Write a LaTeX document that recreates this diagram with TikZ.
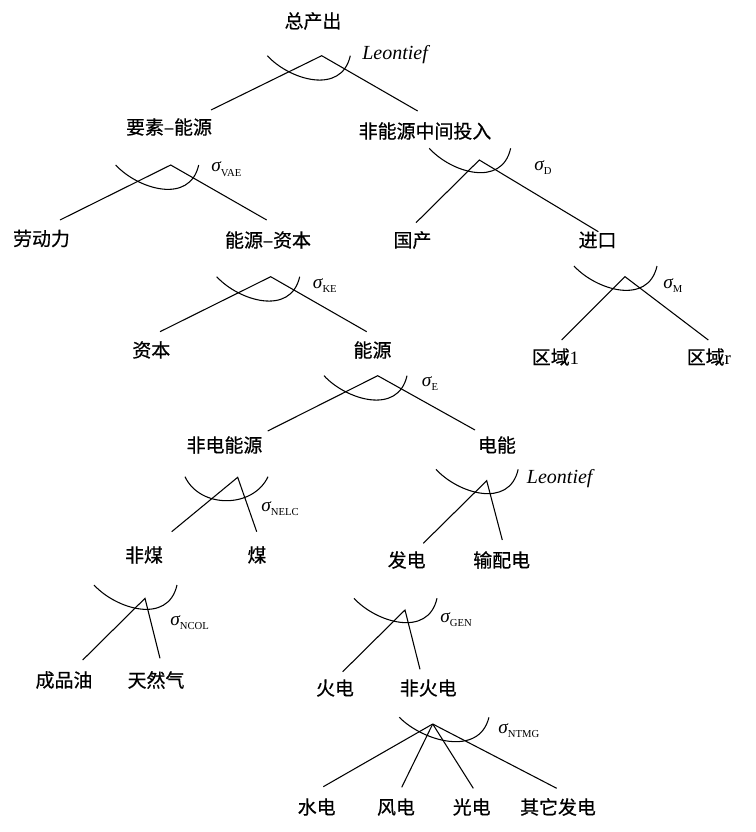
\documentclass[tikz,border=0pt]{standalone}
\usepackage{fontspec}
\setmainfont{Liberation Serif}
\newfontfamily\cjk[FakeBold=0.6]{Noto Sans CJK SC}
\usetikzlibrary{positioning}
\tikzset{
  lbl/.style={font=\cjk\fontsize{14.2}{16}\selectfont, inner sep=0pt},
  elas/.style={font=\fontsize{14.5}{16}\selectfont, inner sep=0pt, anchor=base west},
  leon/.style={font=\itshape\fontsize{15}{16}\selectfont, inner sep=0pt, anchor=west},
  brch/.style={line width=0.8pt},
  nestarc/.style={line width=0.8pt},
}
\newcommand{\sig}[1]{{\itshape σ}\raisebox{-3.6pt}{\fontsize{8}{8}\selectfont #1}}
% nesting arc, given by its left end
\newcommand{\cesarc}[2][1]{%
  \draw[nestarc, shift={(#2)}, xscale=#1] (0,0) .. controls (22,24) and (74,40) .. (83,0);}

\begin{document}
\begin{tikzpicture}[x=0.75pt, y=-0.75pt]
  \useasboundingbox (0,0) rectangle (756,832);

  % labels
  \node[lbl] (zcc)   at (313,21)    {总产出};
  \node[lbl] (ysny)  at (169,127)   {要素–能源};
  \node[lbl] (fny)   at (425,131)   {非能源中间投入};
  \node[lbl] (ldl)   at (41.5,238.5){劳动力};
  \node[lbl] (nyzb)  at (268,240)   {能源–资本};
  \node[lbl] (gc)    at (412.5,240) {国产};
  \node[lbl] (jk)    at (597.5,240) {进口};
  \node[lbl] (zb)    at (151.3,350) {资本};
  \node[lbl] (ny)    at (372.5,350) {能源};
  \node[lbl] (qy1)   at (555.5,357) {区域{\rmfamily 1}};
  \node[lbl] (qyr)   at (708.8,357) {区域{\rmfamily r}};
  \node[lbl] (fdny)  at (224.5,445) {非电能源};
  \node[lbl] (dn)    at (497,445)   {电能};
  \node[lbl] (fm)    at (144,555)   {非煤};
  \node[lbl] (mei)   at (257,555)   {煤};
  \node[lbl] (fd)    at (406.7,560) {发电};
  \node[lbl] (spd)   at (501.7,560) {输配电};
  \node[lbl] (cpy)   at (64,680)    {成品油};
  \node[lbl] (trq)   at (156,680)   {天然气};
  \node[lbl] (hd)    at (335,688)   {火电};
  \node[lbl] (fhd)   at (428.3,688) {非火电};
  \node[lbl] (sd)    at (316.7,807) {水电};
  \node[lbl] (fengd) at (396,807)   {风电};
  \node[lbl] (gd)    at (471.7,807) {光电};
  \node[lbl] (qtfd)  at (558,807)   {其它发电};

  % elasticities
  \node[leon] (leo1)  at (362,55)    {Leontief};
  \node[elas] (svae)  at (211,171.5) {\sig{VAE}};
  \node[elas] (sd-s)  at (534,170)   {\sig{D}};
  \node[elas] (sm)    at (663,288)   {\sig{M}};
  \node[elas] (ske)   at (312.7,288) {\sig{KE}};
  \node[elas] (se)    at (421.7,386) {\sig{E}};
  \node[elas] (snelc) at (261,511)   {\sig{NELC}};
  \node[leon] (leo2)  at (526.7,479) {Leontief};
  \node[elas] (sncol) at (170,625)   {\sig{NCOL}};
  \node[elas] (sgen)  at (440,622)   {\sig{GEN}};
  \node[elas] (sntmg) at (498,733)   {\sig{NTMG}};

  % nest apexes and branch ends
  \coordinate (top)   at (321.7,55.7);
  \coordinate (top-l) at (211,110);   \coordinate (top-r) at (417.7,111);
  \coordinate (vae)   at (170.7,165);
  \coordinate (vae-l) at (60,220);    \coordinate (vae-r) at (266.7,220);
  \coordinate (dom)   at (479.3,160);
  \coordinate (dom-l) at (416,222.7); \coordinate (dom-r) at (598.3,231.7);
  \coordinate (imp)   at (625,276.7);
  \coordinate (imp-l) at (561.7,340); \coordinate (imp-r) at (708.3,340);
  \coordinate (ke)    at (270.7,276.7);
  \coordinate (ke-l)  at (160,331.7); \coordinate (ke-r)  at (366.7,331.7);
  \coordinate (en)    at (377.7,375.7);
  \coordinate (en-l)  at (267.7,431); \coordinate (en-r)  at (475,430);
  \coordinate (nelc)  at (237.7,477.3);
  \coordinate (nelc-l) at (171.7,531.7); \coordinate (nelc-r) at (256.7,531.7);
  \coordinate (ele)   at (486.7,480.7);
  \coordinate (ele-l) at (423.3,543.3); \coordinate (ele-r) at (502.3,540);
  \coordinate (ncol)  at (145,598.3);
  \coordinate (ncol-l) at (82.7,660); \coordinate (ncol-r) at (160,658.3);
  \coordinate (gen)   at (405,610);
  \coordinate (gen-l) at (342.7,671.7); \coordinate (gen-r) at (420,669.3);
  \coordinate (ntmg)  at (432.7,724);
  \coordinate (ntmg-1) at (323.3,786.7); \coordinate (ntmg-2) at (401.7,787.3);
  \coordinate (ntmg-3) at (473.3,788.3); \coordinate (ntmg-4) at (556.7,788.3);

  % branches
  \draw[brch] (top-l) -- (top) -- (top-r);
  \draw[brch] (vae-l) -- (vae) -- (vae-r);
  \draw[brch] (dom-l) -- (dom) -- (dom-r);
  \draw[brch] (imp-l) -- (imp) -- (imp-r);
  \draw[brch] (ke-l) -- (ke) -- (ke-r);
  \draw[brch] (en-l) -- (en) -- (en-r);
  \draw[brch] (nelc-l) -- (nelc) -- (nelc-r);
  \draw[brch] (ele-l) -- (ele) -- (ele-r);
  \draw[brch] (ncol-l) -- (ncol) -- (ncol-r);
  \draw[brch] (gen-l) -- (gen) -- (gen-r);
  \foreach \k in {1,...,4} \draw[brch] (ntmg) -- (ntmg-\k);

  % arcs
  \cesarc{267.3,55.7}
  \cesarc{115.7,165}
  \cesarc[0.98]{429.3,148.3}
  \cesarc{574,266}
  \cesarc{216.7,276.7}
  \cesarc{324,375.7}
  \draw[nestarc, shift={(185,476.7)}] (0,0) .. controls (15,32) and (68,32) .. (83,0);
  \cesarc[0.99]{436,469.3}
  \cesarc{94,585}
  \cesarc{354,598.3}
  \cesarc[1.08]{399.3,717.3}
\end{tikzpicture}
\end{document}
